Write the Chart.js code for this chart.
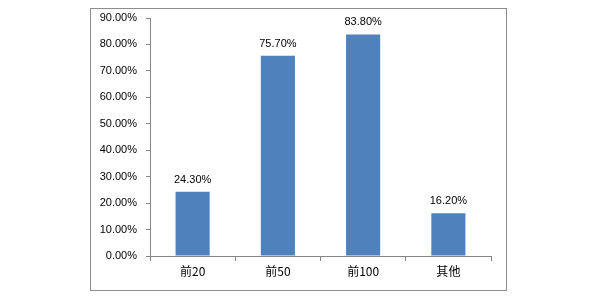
<!DOCTYPE html>
<html><head><meta charset="utf-8">
<script src="https://cdn.jsdelivr.net/npm/chart.js@4/dist/chart.umd.min.js"></script>
<style>html,body{margin:0;padding:0;background:#fff}#wrap{width:596px;height:305px}</style>
</head><body><div id="wrap"><canvas id="c" width="596" height="305"></canvas></div>
<script>
const categories = ['前20', '前50', '前100', '其他'];
const values = [24.3, 75.7, 83.8, 16.2];
const yTicks = [0, 10, 20, 30, 40, 50, 60, 70, 80, 90];

const frame = {
  id: 'frame',
  beforeDraw(chart) {
    const ctx = chart.ctx;
    ctx.save();
    ctx.fillStyle = '#fff';
    ctx.fillRect(0, 0, chart.width, chart.height);
    ctx.strokeStyle = '#8c8c8c';
    ctx.lineWidth = 1;
    ctx.strokeRect(90.5, 8.5, 416, 282);
    ctx.restore();
  }
};
const labels = {
  id: 'vlabels',
  afterDatasetsDraw(chart) {
    const ctx = chart.ctx;
    const meta = chart.getDatasetMeta(0);
    ctx.save();
    ctx.font = '11px "Liberation Sans", Arial, sans-serif';
    ctx.fillStyle = '#000';
    ctx.textAlign = 'center';
    ctx.textBaseline = 'alphabetic';
    meta.data.forEach((bar, i) => {
      ctx.fillText(values[i].toFixed(2) + '%', bar.x, bar.y - 9);
    });
    ctx.restore();
  }
};

new Chart(document.getElementById('c'), {
  type: 'bar',
  data: {
    labels: categories,
    datasets: [{
      data: values,
      backgroundColor: '#4f81bd',
      borderWidth: 0,
      categoryPercentage: 1,
      barPercentage: 0.4
    }]
  },
  options: {
    responsive: false,
    animation: false,
    devicePixelRatio: 1,
    layout: { padding: { left: 90, right: 105, top: 18, bottom: 0 } },
    plugins: { legend: { display: false }, tooltip: { enabled: false } },
    scales: {
      x: {
        grid: { offset: true, drawOnChartArea: false, drawTicks: true, tickLength: 5, color: '#868686' },
        border: { display: true, color: '#868686' },
        ticks: { color: '#000', font: { family: '"Noto Sans CJK SC", sans-serif', size: 12 }, padding: 3 },
        afterFit(s) { s.height = 305 - 256; }
      },
      y: {
        min: 0, max: 90,
        afterBuildTicks(s) { s.ticks = yTicks.map(v => ({ value: v })); },
        grid: { drawOnChartArea: false, drawTicks: true, tickLength: 4, color: '#868686' },
        border: { display: true, color: '#868686' },
        ticks: {
          color: '#000', padding: 9,
          font: { family: '"Liberation Sans", Arial, sans-serif', size: 11 },
          callback: v => Number(v).toFixed(2) + '%'
        },
        afterFit(s) { s.width = 60; }
      }
    }
  },
  plugins: [frame, labels]
});
</script></body></html>
